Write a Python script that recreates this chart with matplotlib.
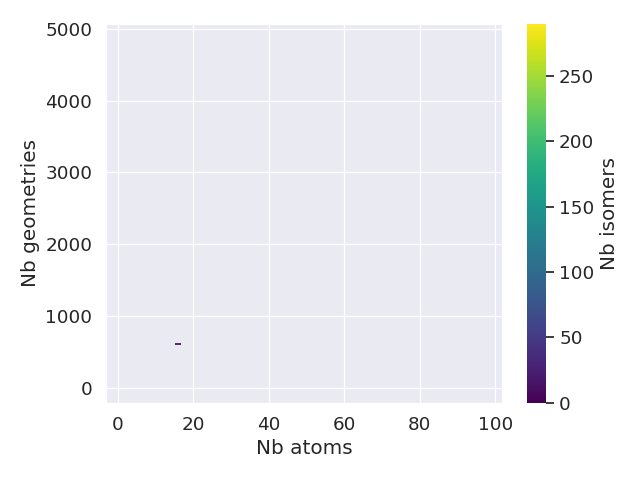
import numpy as np
import matplotlib
matplotlib.use("Agg")
import matplotlib.pyplot as plt
import seaborn as sns

# one visible cluster count
nb_atoms = [16]
nb_geometries = [610]
nb_isomers = [1]

x_lim = (-3.2, 101.8)
y_lim = (-208, 5069)

sns.set_theme(style="darkgrid", font_scale=1.2,
              rc={"grid.linewidth": 0.9, "axes.linewidth": 0.9})

fig, ax = plt.subplots(figsize=(6.4, 4.8), dpi=100)
sc = ax.scatter(nb_atoms, nb_geometries, c=nb_isomers, cmap="viridis",
                vmin=0, vmax=290, marker="_", s=14, linewidths=1.2)
ax.set_xlim(*x_lim)
ax.set_ylim(*y_lim)
ax.set_xticks([0, 20, 40, 60, 80, 100])
ax.set_yticks([0, 1000, 2000, 3000, 4000, 5000])
ax.set_xlabel("Nb atoms")
ax.set_ylabel("Nb geometries")
cbar = fig.colorbar(sc, ax=ax)
cbar.set_label("Nb isomers")
cbar.outline.set_visible(False)
fig.tight_layout()
fig.subplots_adjust(left=0.165)
fig.savefig("out.png")
